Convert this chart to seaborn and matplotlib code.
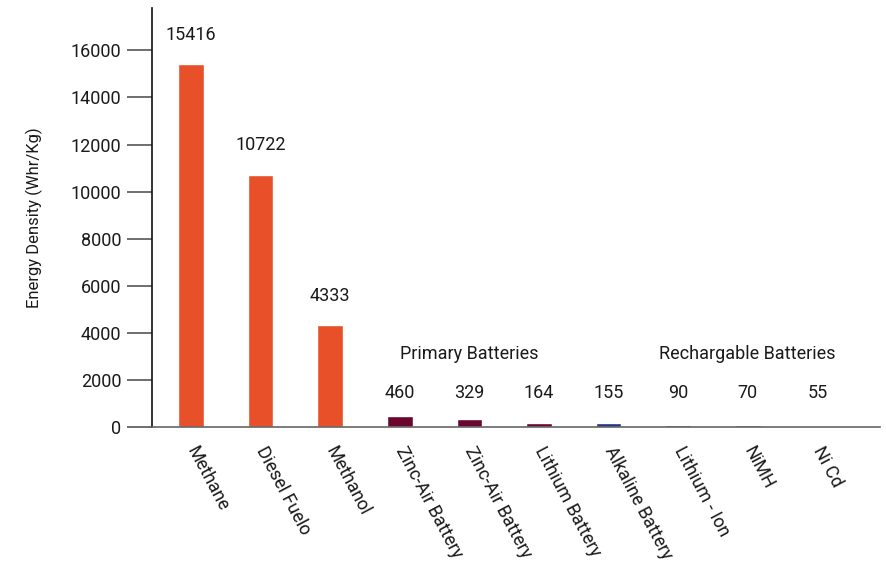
import matplotlib
matplotlib.use("Agg")
import matplotlib.pyplot as plt
import seaborn as sns
import pandas as pd

categories = ["Methane", "Diesel Fuelo", "Methanol", "Zinc-Air Battery", "Zinc-Air Battery ",
              "Lithium Battery", "Alkaline Battery", "Lithium - Ion", "NiMH", "Ni Cd"]
values = [15416, 10722, 4333, 460, 329, 164, 155, 90, 70, 55]
groups = ["Fuel", "Fuel", "Fuel", "Primary", "Primary", "Primary",
          "Rechargeable", "Rechargeable", "Rechargeable", "Rechargeable"]
group_colors = {"Fuel": "#E8502A", "Primary": "#6B0630", "Rechargeable": "#233280"}
yticks = [0, 2000, 4000, 6000, 8000, 10000, 12000, 14000, 16000]

sns.set_theme(style="white")
plt.rcParams["font.family"] = ["Roboto", "DejaVu Sans"]

df = pd.DataFrame({"cat": categories, "val": values, "grp": groups})
text_color = "#1a1a1a"
fs = 13

fig = plt.figure(figsize=(8.86, 5.65), dpi=100)
ax = fig.add_axes([0.1716, 0.2442, 0.8216, 0.7416])
sns.barplot(data=df, x="cat", y="val", hue="grp", palette=group_colors,
            dodge=False, width=0.37, legend=False, ax=ax, saturation=1)

ax.set_xlim(-0.56, 9.9)
ax.set_ylim(0, 17800)
ax.set_yticks(yticks)
ax.set_yticklabels([str(t) for t in yticks], fontsize=fs, color=text_color)
ax.tick_params(axis="y", length=18, width=1.2, color="#555555", pad=4, direction="out", left=True)
ax.tick_params(axis="x", length=0, pad=15)
ax.set_xticks(range(len(categories)))
ax.set_xticklabels([c.strip() for c in categories], rotation=-62, ha="left", va="center",
                   rotation_mode="anchor", fontsize=fs, color=text_color)
ax.set_xlabel("")
ax.set_ylabel("Energy Density (Whr/Kg)", fontsize=12, color=text_color, labelpad=20)

for side in ["top", "right"]:
    ax.spines[side].set_visible(False)
ax.spines["left"].set_color("#111111")
ax.spines["left"].set_linewidth(1.2)
ax.spines["bottom"].set_color("#666666")
ax.spines["bottom"].set_linewidth(1.2)

# value labels: large bars get a label above the bar, small ones share a common row
for i, v in enumerate(values):
    y = v + 1250 if v > 1000 else 1450
    ax.text(i, y, str(v), ha="center", va="center", fontsize=fs, color=text_color)

ax.text(4, 3100, "Primary Batteries", ha="center", va="center", fontsize=fs, color=text_color)
ax.text(8, 3100, "Rechargable Batteries", ha="center", va="center", fontsize=fs, color=text_color)

fig.savefig("out.png", dpi=100)
